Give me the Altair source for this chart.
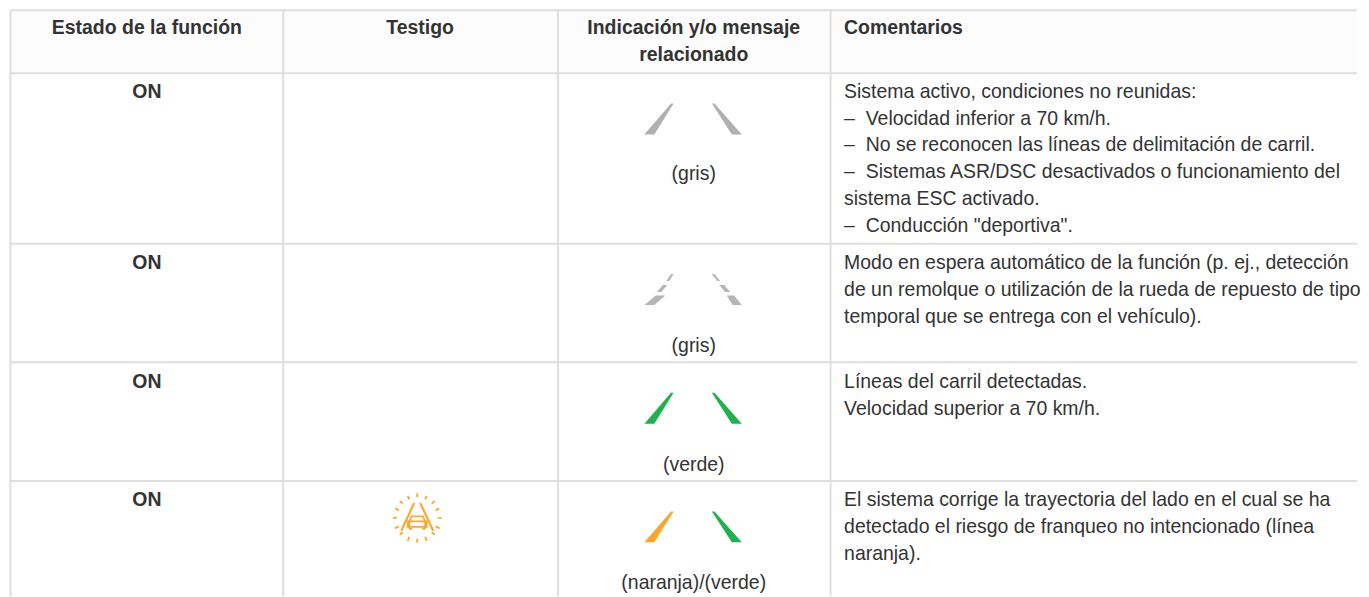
import altair as alt
import pandas as pd

W, H = 1353, 589
X0, Y0 = 8, 8
X_END = 1358.5

row_lines = [9.5, 72.5, 243.5, 362.5, 481.5]
col_lines = [10.5, 283.5, 558.5, 831.5]

header_x = [147, 420.5, 694.5, 845]
header_align = ["center", "center", "center", "left"]
header_y = [33, 33, 33, 33]
header_text = ["Estado de la función", "Testigo", "Indicación y/o mensaje", "Comentarios"]
header2_text = ["relacionado"]
header2_x = [694.5]
header2_y = [60]

on_x = [147, 147, 147, 147]
on_y = [97, 269, 388, 507]
on_text = ["ON", "ON", "ON", "ON"]

caption_x = [694.5, 694.5, 694.5, 694.5]
caption_y = [180, 352, 471, 590]
caption_text = ["(gris)", "(gris)", "(verde)", "(naranja)/(verde)"]

comment_y = [97, 124, 151, 178, 205, 232, 269, 296, 323, 388, 415, 507, 534, 561]
comment_text = [
    "Sistema activo, condiciones no reunidas:",
    "–\u00a0\u00a0Velocidad inferior a 70 km/h.",
    "–\u00a0\u00a0No se reconocen las líneas de delimitación de carril.",
    "–\u00a0\u00a0Sistemas ASR/DSC desactivados o funcionamiento del",
    "sistema ESC activado.",
    "–\u00a0\u00a0Conducción \"deportiva\".",
    "Modo en espera automático de la función (p. ej., detección",
    "de un remolque o utilización de la rueda de repuesto de tipo",
    "temporal que se entrega con el vehículo).",
    "Líneas del carril detectadas.",
    "Velocidad superior a 70 km/h.",
    "El sistema corrige la trayectoria del lado en el cual se ha",
    "detectado el riesgo de franqueo no intencionado (línea",
    "naranja).",
]

LEFT_LANE = "M-22.3 0L-19.7 0L-39 31L-49 31Z"
RIGHT_LANE = "M18.7 0L21.3 0L48.7 31L38.7 31Z"
LEFT_DASH = ("M-22.3 -4L-19.7 -4L-24 3L-27 3Z M-30.5 7L-26 7L-32 14L-36.5 14Z "
             "M-37.5 17.5L-28 17.5L-39 27L-49 27Z")
RIGHT_DASH = ("M18.7 -4L21.3 -4L27 3L24 3Z M26 7L31 7L37 14L32 14Z "
              "M33.5 17.5L41 17.5L48.7 27L39.5 27Z")

lane_x = [694, 694, 694, 694, 694, 694, 694, 694]
lane_y = [103, 103, 278, 278, 393, 393, 512, 512]
lane_shape = [LEFT_LANE, RIGHT_LANE, LEFT_DASH, RIGHT_DASH, LEFT_LANE, RIGHT_LANE, LEFT_LANE, RIGHT_LANE]
lane_color = ["#aeb0b3", "#aeb0b3", "#b4b6b8", "#b4b6b8", "#1fb14c", "#1fb14c", "#f7a829", "#1fb14c"]

icon_x = [417.7]
icon_y = [518.5]
ICON_RAYS = ("M0 -24.5V-21 M-9.5 -22L-8 -18.5 M-17.5 -17L-14.5 -14.5 M-22 -9.5L-18.5 -7.5 "
             "M-24.5 0H-20.5 M-22.5 10.5L-18.5 8.5 M-17.5 17L-14.5 14.5 M-9.5 23L-8 19 "
             "M0 25V21 M9.5 23L8 19 M17.5 17L14.5 14.5 M22.5 10.5L18.5 8.5 "
             "M24.5 0H20.5 M22 -9.5L18.5 -7.5 M17.5 -17L14.5 -14.5 M9.5 -22L8 -18.5")
ICON_ROAD = "M-3 -15L-16 13 M3 -15L16 13"
ICON_CAR = ("M-8 11V3.5L-5.5 -1.5H5.5L8 3.5V11 M-9.5 3.5H9.5V9H-9.5Z M-8 11H-5 M5 11H8")

xs = alt.Scale(domain=[X0, X_END], range=[0, W], nice=False, zero=False)
ys = alt.Scale(domain=[Y0, Y0 + H], range=[0, H], nice=False, zero=False)
X = alt.X("x:Q", scale=xs, axis=None)
Y = alt.Y("y:Q", scale=ys, axis=None)

FONT = "Liberation Sans"
FS = 19.5
INK = "#333333"
GRID = "#dedede"

header_bg = alt.Chart(pd.DataFrame({"x": [col_lines[0]], "x2": [X_END], "y": [row_lines[0]], "y2": [row_lines[1]]})).mark_rect(
    color="#fcfcfc"
).encode(X, alt.X2("x2:Q"), Y, alt.Y2("y2:Q"))

h_rules = alt.Chart(pd.DataFrame({"y": row_lines, "x": [col_lines[0]] * 5, "x2": [X_END] * 5})).mark_rule(
    color=GRID, strokeWidth=2
).encode(X, alt.X2("x2:Q"), Y)

v_rules = alt.Chart(pd.DataFrame({"x": col_lines, "y": [row_lines[0]] * 4, "y2": [Y0 + H] * 4})).mark_rule(
    color=GRID, strokeWidth=2
).encode(X, Y, alt.Y2("y2:Q"))


def text_layer(x, y, text, align, bold=False):
    df = pd.DataFrame({"x": x, "y": y, "t": text, "a": align})
    layers = []
    for al in sorted(set(align)):
        layers.append(
            alt.Chart(df[df["a"] == al]).mark_text(
                align=al, baseline="alphabetic", font=FONT, fontSize=FS,
                fontWeight="bold" if bold else "normal", color=INK,
            ).encode(X, Y, text="t:N")
        )
    return layers


layers = [header_bg, h_rules, v_rules]
layers += text_layer(header_x, header_y, header_text, header_align, bold=True)
layers += text_layer(header2_x, header2_y, header2_text, ["center"], bold=True)
layers += text_layer(on_x, on_y, on_text, ["center"] * 4, bold=True)
layers += text_layer(caption_x, caption_y, caption_text, ["center"] * 4)
layers += text_layer([845] * len(comment_y), comment_y, comment_text, ["left"] * len(comment_y))

lanes_df = pd.DataFrame({"x": lane_x, "y": lane_y, "s": lane_shape, "c": lane_color})
for (s, c), g in lanes_df.groupby(["s", "c"], sort=False):
    layers.append(
        alt.Chart(g).mark_point(shape=s, size=4, filled=True, fill=c, stroke=None, opacity=1).encode(X, Y)
    )

icon_df = pd.DataFrame({"x": icon_x, "y": icon_y})
for path, sw in [(ICON_RAYS, 1.9), (ICON_ROAD, 2.2), (ICON_CAR, 1.9)]:
    layers.append(
        alt.Chart(icon_df).mark_point(shape=path, size=4, filled=False, stroke="#f9a92f", strokeWidth=sw, opacity=1).encode(X, Y)
    )

chart = alt.layer(*layers).properties(
    width=W, height=H, padding=0, background="white"
).configure_view(stroke=None)

chart.save("out.html", embed_options={"renderer": "svg", "actions": False})
